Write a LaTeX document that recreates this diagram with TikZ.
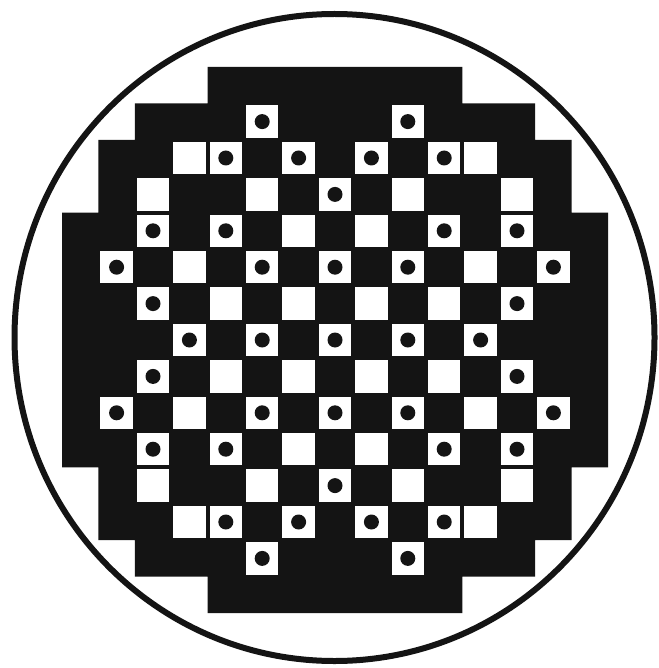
\documentclass[tikz,border=0pt]{standalone}
\begin{document}
\begin{tikzpicture}[x=1pt,y=-1pt,
  corefill/.style={fill=black!92},
  cellbox/.style={fill=white},
  rodmark/.style={fill=black!92}]
\useasboundingbox (0,0) rectangle (658,668);
\fill[white] (0,0) rectangle (658,668);
% outer vessel
\draw[line width=6pt, black!92] (334.5,337.5) ellipse [x radius=320pt, y radius=323.5pt];
\begin{scope}[shift={(335,340)}, x=36.4pt, y=-36.4pt]
  % stepped black core
  \fill[corefill] (-3.5,-7.5) -- (3.5,-7.5) -- (3.5,-6.5) -- (5.5,-6.5) -- (5.5,-5.5)
    -- (6.5,-5.5) -- (6.5,-3.5) -- (7.5,-3.5) -- (7.5,3.5) -- (6.5,3.5) -- (6.5,5.5)
    -- (5.5,5.5) -- (5.5,6.5) -- (3.5,6.5) -- (3.5,7.5) -- (-3.5,7.5) -- (-3.5,6.5)
    -- (-5.5,6.5) -- (-5.5,5.5) -- (-6.5,5.5) -- (-6.5,3.5) -- (-7.5,3.5) -- (-7.5,-3.5)
    -- (-6.5,-3.5) -- (-6.5,-5.5) -- (-5.5,-5.5) -- (-5.5,-6.5) -- (-3.5,-6.5) -- cycle;
  % white cells with dots
  \foreach \i/\j in {2/6,1/5,3/5,0/4,3/3,5/3,0/2,2/2,6/2,5/1,0/0,2/0,4/0}{
    \foreach \sx in {1,-1}{
      \foreach \sy in {1,-1}{
        \fill[cellbox] ({\sx*\i-0.445},{\sy*\j-0.445}) rectangle ({\sx*\i+0.445},{\sy*\j+0.445});
        \fill[rodmark] ({\sx*\i},{\sy*\j}) circle [radius=7.5pt];
      }
    }
  }
  % empty white cells
  \foreach \i/\j in {4/5,2/4,5/4,1/3,4/2,1/1,3/1}{
    \foreach \sx in {1,-1}{
      \foreach \sy in {1,-1}{
        \fill[cellbox] ({\sx*\i-0.445},{\sy*\j-0.445}) rectangle ({\sx*\i+0.445},{\sy*\j+0.445});
      }
    }
  }
\end{scope}
\end{tikzpicture}
\end{document}
